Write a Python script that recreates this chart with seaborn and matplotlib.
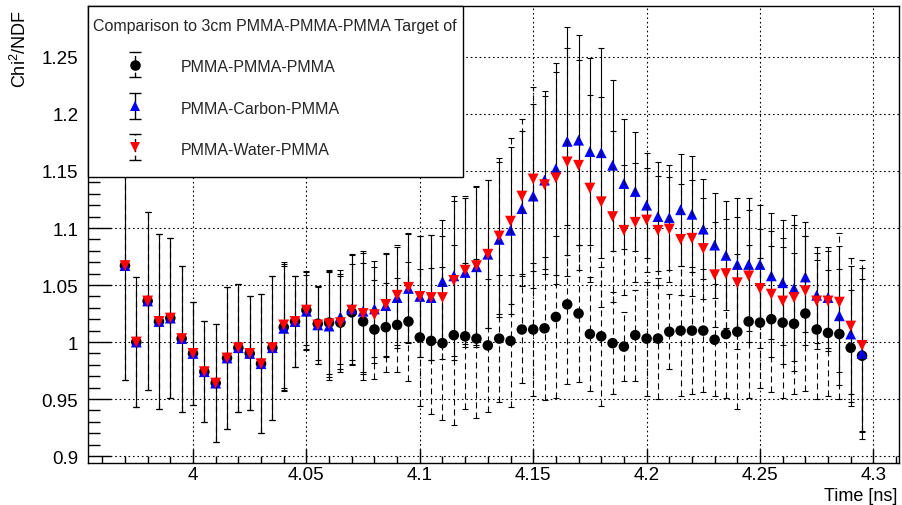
import matplotlib
matplotlib.use("Agg")
import matplotlib.pyplot as plt
import seaborn as sns
from matplotlib.ticker import MultipleLocator, FuncFormatter
from matplotlib.patches import Rectangle
from matplotlib.lines import Line2D
from matplotlib.collections import LineCollection
from matplotlib.container import ErrorbarContainer
from matplotlib.legend_handler import HandlerErrorbar

# ---------------------------------------------------------------- data
times = [3.970, 3.975, 3.980, 3.985, 3.990, 3.995, 4.000, 4.005, 4.010, 4.015,
         4.020, 4.025, 4.030, 4.035, 4.040, 4.045, 4.050, 4.055, 4.060, 4.065,
         4.070, 4.075, 4.080, 4.085, 4.090, 4.095, 4.100, 4.105, 4.110, 4.115,
         4.120, 4.125, 4.130, 4.135, 4.140, 4.145, 4.150, 4.155, 4.160, 4.165,
         4.170, 4.175, 4.180, 4.185, 4.190, 4.195, 4.200, 4.205, 4.210, 4.215,
         4.220, 4.225, 4.230, 4.235, 4.240, 4.245, 4.250, 4.255, 4.260, 4.265,
         4.270, 4.275, 4.280, 4.285, 4.290, 4.295]

chi2_pmma = [1.067, 1.000, 1.036, 1.018, 1.021, 1.003, 0.990, 0.974, 0.964, 0.986,
             0.995, 0.990, 0.981, 0.995, 1.013, 1.018, 1.028, 1.016, 1.017, 1.017,
             1.026, 1.018, 1.011, 1.013, 1.015, 1.018, 1.004, 1.001, 0.999, 1.006,
             1.005, 1.003, 0.997, 1.003, 1.001, 1.011, 1.011, 1.012, 1.022, 1.033,
             1.025, 1.007, 1.005, 0.999, 0.996, 1.006, 1.003, 1.003, 1.009, 1.010,
             1.010, 1.010, 1.002, 1.007, 1.009, 1.018, 1.017, 1.020, 1.017, 1.016,
             1.025, 1.011, 1.008, 1.007, 0.995, 0.988]

chi2_carbon = [1.067, 1.000, 1.036, 1.018, 1.021, 1.003, 0.990, 0.974, 0.964, 0.986,
               0.995, 0.990, 0.981, 0.995, 1.012, 1.018, 1.027, 1.015, 1.014, 1.022,
               1.029, 1.027, 1.029, 1.032, 1.039, 1.047, 1.040, 1.039, 1.053, 1.058,
               1.061, 1.066, 1.077, 1.090, 1.098, 1.117, 1.128, 1.142, 1.152, 1.176,
               1.177, 1.167, 1.166, 1.155, 1.139, 1.132, 1.120, 1.110, 1.109, 1.116,
               1.112, 1.099, 1.085, 1.076, 1.068, 1.068, 1.068, 1.058, 1.052, 1.047,
               1.057, 1.041, 1.039, 1.023, 1.007, 0.990]

chi2_water = [1.067, 1.000, 1.036, 1.018, 1.021, 1.003, 0.990, 0.974, 0.964, 0.986,
              0.995, 0.990, 0.981, 0.995, 1.015, 1.018, 1.028, 1.015, 1.016, 1.017,
              1.028, 1.025, 1.024, 1.033, 1.041, 1.048, 1.040, 1.039, 1.039, 1.054,
              1.063, 1.067, 1.077, 1.093, 1.106, 1.128, 1.143, 1.138, 1.144, 1.158,
              1.155, 1.135, 1.123, 1.110, 1.098, 1.105, 1.107, 1.098, 1.099, 1.090,
              1.091, 1.082, 1.059, 1.060, 1.052, 1.058, 1.047, 1.042, 1.036, 1.039,
              1.045, 1.036, 1.036, 1.035, 1.014, 0.997]

err_pmma = [0.100, 0.057, 0.078, 0.077, 0.070, 0.064, 0.045, 0.044, 0.052, 0.062,
            0.056, 0.050, 0.061, 0.063, 0.055, 0.040, 0.031, 0.032, 0.045, 0.043,
            0.042, 0.051, 0.043, 0.039, 0.041, 0.052, 0.060, 0.064, 0.067, 0.079,
            0.064, 0.070, 0.058, 0.056, 0.058, 0.047, 0.058, 0.063, 0.071, 0.070,
            0.060, 0.050, 0.061, 0.045, 0.030, 0.040, 0.050, 0.053, 0.033, 0.057,
            0.056, 0.054, 0.049, 0.056, 0.068, 0.067, 0.057, 0.064, 0.066, 0.062,
            0.068, 0.061, 0.055, 0.057, 0.051, 0.067]

err_carbon = [0.100, 0.057, 0.078, 0.077, 0.070, 0.064, 0.045, 0.044, 0.052, 0.062,
              0.056, 0.050, 0.061, 0.063, 0.055, 0.040, 0.034, 0.034, 0.047, 0.041,
              0.048, 0.053, 0.042, 0.045, 0.044, 0.048, 0.053, 0.055, 0.054, 0.070,
              0.065, 0.070, 0.065, 0.068, 0.073, 0.068, 0.081, 0.078, 0.093, 0.100,
              0.092, 0.082, 0.092, 0.075, 0.057, 0.052, 0.046, 0.048, 0.046, 0.049,
              0.051, 0.044, 0.046, 0.048, 0.058, 0.058, 0.052, 0.055, 0.055, 0.064,
              0.048, 0.042, 0.044, 0.061, 0.060, 0.075]

err_water = [0.100, 0.057, 0.078, 0.077, 0.070, 0.064, 0.045, 0.044, 0.052, 0.062,
             0.056, 0.050, 0.061, 0.063, 0.055, 0.040, 0.034, 0.034, 0.047, 0.041,
             0.048, 0.053, 0.042, 0.045, 0.044, 0.048, 0.053, 0.055, 0.054, 0.070,
             0.065, 0.070, 0.065, 0.068, 0.073, 0.068, 0.081, 0.078, 0.093, 0.100,
             0.092, 0.082, 0.092, 0.075, 0.057, 0.052, 0.046, 0.048, 0.046, 0.049,
             0.051, 0.044, 0.046, 0.048, 0.058, 0.058, 0.052, 0.055, 0.055, 0.064,
             0.048, 0.042, 0.044, 0.061, 0.060, 0.075]

labels = ["PMMA-PMMA-PMMA", "PMMA-Carbon-PMMA", "PMMA-Water-PMMA"]
legend_title = "Comparison to 3cm PMMA-PMMA-PMMA Target of"

# ---------------------------------------------------------------- style
sns.set_theme(style="ticks")
plt.rcParams["font.family"] = ["Liberation Sans", "DejaVu Sans"]
plt.rcParams["mathtext.fontset"] = "custom"
plt.rcParams["mathtext.rm"] = "Liberation Sans"
plt.rcParams["mathtext.it"] = "Liberation Sans:italic"
plt.rcParams["mathtext.bf"] = "Liberation Sans:bold"

DASH = (0, (5.5, 3.5))
BAR_LW = 0.8

fig = plt.figure(figsize=(9.02, 5.06), dpi=100)
fig.patch.set_facecolor("white")
ax = fig.add_axes([88 / 902, 1 - 464 / 506, 811 / 902, 457 / 506])
ax.set_facecolor("white")

series = [
    (labels[0], chi2_pmma, err_pmma, "black", "o", 7.6, DASH),
    (labels[1], chi2_carbon, err_carbon, "#0000ff", "^", 7.8, "solid"),
    (labels[2], chi2_water, err_water, "#ff0000", "v", 7.8, DASH),
]

handles = []
z = 2
for label, vals, errs, color, marker, ms, bar_ls in series:
    eb = ax.errorbar(times, vals, yerr=errs, fmt="none", ecolor="black",
                     elinewidth=BAR_LW, capsize=2.4, capthick=BAR_LW, zorder=z)
    eb[2][0].set_linestyle(bar_ls)
    sns.scatterplot(x=times, y=vals, marker=marker, s=ms ** 2, color=color,
                    edgecolor="none", linewidth=0, zorder=z + 1, legend=False, ax=ax)
    z += 2

    # legend proxy: marker with a vertical error bar and caps
    mk = Line2D([], [], linestyle="none", marker=marker, markersize=ms,
                color=color, markeredgewidth=0)
    cap = Line2D([], [], linestyle="none", marker="_", markersize=8,
                 color="black", markeredgewidth=1.0)
    bar = LineCollection([], colors="black", linewidths=1.0,
                         linestyles=(0, (3.5, 2.5)) if bar_ls != "solid" else "solid")
    handles.append(ErrorbarContainer((mk, (cap, cap), (bar,)),
                                     has_xerr=False, has_yerr=True, label=label))

# ---------------------------------------------------------------- axes
ax.set_xlim(3.9537, 4.3113)
ax.set_ylim(0.8939, 1.2947)

fmt = FuncFormatter(lambda v, p: f"{round(v, 3):g}")
for axis in (ax.xaxis, ax.yaxis):
    axis.set_major_locator(MultipleLocator(0.05))
    axis.set_minor_locator(MultipleLocator(0.01))
    axis.set_major_formatter(fmt)

ax.tick_params(which="both", direction="in", top=False, right=False,
               color="black", labelcolor="black", width=1.0, labelsize=13.5)
ax.tick_params(axis="x", which="major", length=10, pad=2.5)
ax.tick_params(axis="x", which="minor", length=5)
ax.tick_params(axis="y", which="major", length=16.5, pad=7)
ax.tick_params(axis="y", which="minor", length=8.5)

for sp in ax.spines.values():
    sp.set_visible(True)
    sp.set_color("black")
    sp.set_linewidth(1.0)

ax.grid(True, which="major", color="black", linestyle=(0, (1.5, 2.5)), linewidth=0.8)
ax.set_axisbelow(True)

ax.set_xlabel("Time [ns]", fontsize=13, loc="right", color="black")
ax.xaxis.set_label_coords(0.9975, -0.0525)
ax.set_ylabel("Chi$^{2}$/NDF", fontsize=13, loc="top", color="black")
ax.yaxis.set_label_coords(-0.071, 0.9934)

# ---------------------------------------------------------------- legend
box = Rectangle((0, (464 - 178) / 457), (463 - 88) / 811, 1 - (464 - 178) / 457,
                transform=ax.transAxes, facecolor="white", edgecolor="black",
                linewidth=1.0, zorder=19, clip_on=False)
ax.add_patch(box)

leg = ax.legend(handles=handles, labels=labels, title=legend_title,
                loc="upper left", bbox_to_anchor=((93 - 88) / 811, (464 - 19) / 457),
                borderaxespad=0, borderpad=0, frameon=False,
                fontsize=11.5, title_fontsize=11.5, alignment="left",
                handlelength=5.25, handleheight=1.12, handletextpad=0.25,
                labelspacing=1.57,
                handler_map={ErrorbarContainer: HandlerErrorbar(yerr_size=0.8)})
leg.set_zorder(20)

fig.savefig("out.png", dpi=100)
